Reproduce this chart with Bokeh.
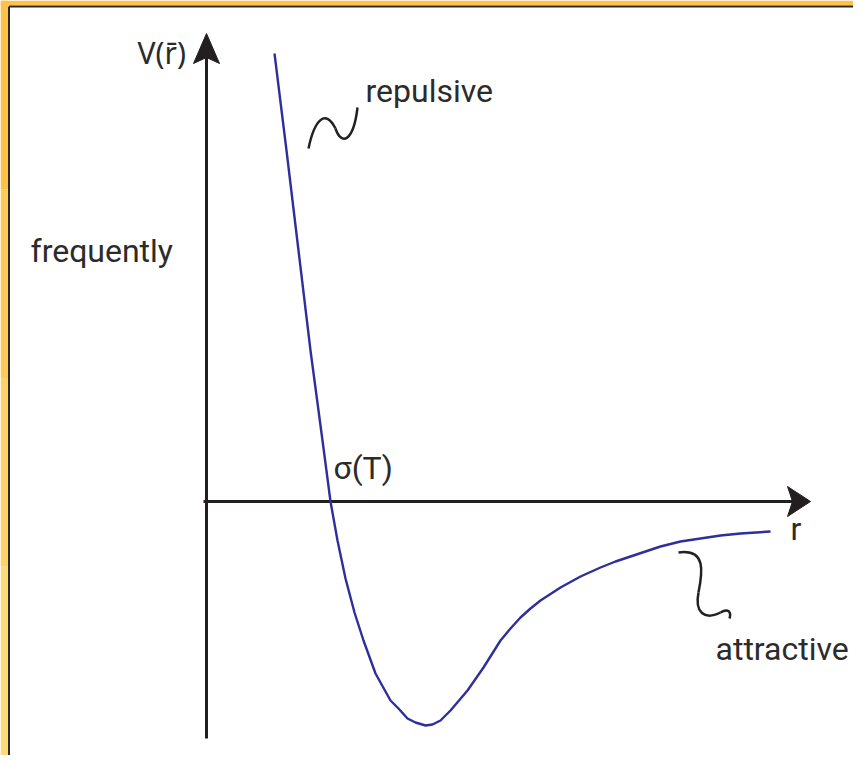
from bokeh.plotting import figure
from bokeh.models import Range1d
from bokeh.core.properties import value
from bokeh.embed import file_html
from bokeh.resources import INLINE

# Potential curve V(r) (axis units: 1 = 100 px)
r_vals = [0.68, 0.80, 0.92, 1.04, 1.16, 1.24, 1.31, 1.39, 1.48, 1.57, 1.69, 1.84,
          1.92, 2.01, 2.09, 2.19, 2.26, 2.34, 2.44, 2.61, 2.77, 2.94, 3.04, 3.14, 3.24,
          3.34, 3.54, 3.74, 3.94, 4.09, 4.24, 4.54, 4.74, 4.94, 5.14, 5.34, 5.64]
V_vals = [4.48, 3.51, 2.51, 1.51, 0.61, 0.00, -0.39, -0.77, -1.11, -1.39, -1.72, -1.99,
          -2.07, -2.17, -2.21, -2.24, -2.23, -2.19, -2.09, -1.89, -1.66, -1.39, -1.27, -1.16, -1.07,
          -0.99, -0.86, -0.75, -0.66, -0.60, -0.55, -0.45, -0.40, -0.37, -0.34, -0.32, -0.30]

labels = ["repulsive", "frequently", "\u03c3(T)", "r", "attractive"]
label_r = [1.59, -1.76, 1.27, 5.84, 5.09]
label_V = [4.11, 2.51, 0.34, -0.27, -1.47]

axis_label = ["V(r\u0304)"]
axis_label_r = [-0.69]
axis_label_V = [4.49]

W, H = 853, 755
X0, X1 = -2.06, 6.47
Y0, Y1 = -2.54, 5.01

p = figure(width=W, height=H, output_backend="svg", toolbar_location=None,
           x_range=Range1d(X0, X1), y_range=Range1d(Y0, Y1),
           x_axis_type=None, y_axis_type=None, min_border=0,
           background_fill_color="white", border_fill_color="white")
p.outline_line_color = None
p.xgrid.visible = False
p.ygrid.visible = False

# orange frame (top and left), with dark inner edge
orange_top = "#FFC247"
left_cols = ["#FFC247", "#FFCB58", "#FFD368", "#FFDA78"]
p.quad(left=[X0], right=[X1], top=[Y1], bottom=[Y1 - 0.05], fill_color=orange_top, line_color=None)
n = len(left_cols)
step = (Y1 - Y0) / n
p.quad(left=[X0] * n, right=[X0 + 0.075] * n,
       top=[Y1 - i * step for i in range(n)], bottom=[Y1 - (i + 1) * step for i in range(n)],
       fill_color=left_cols, line_color=None)
p.segment(x0=[X0 + 0.085, X0 + 0.085], y0=[Y1 - 0.06, Y1 - 0.06], x1=[X1, X0 + 0.085], y1=[Y1 - 0.06, Y0],
          line_color="#2a2a2a", line_width=2)

# axes
ax_col = "#231f20"
p.segment(x0=[0, -0.03], y0=[-2.37, 0], x1=[0, 5.9], y1=[4.45, 0], line_color=ax_col, line_width=3)
p.patch(x=[0, -0.13, 0, 0.13], y=[4.68, 4.38, 4.44, 4.38], fill_color=ax_col, line_color=ax_col)
p.patch(x=[6.04, 5.81, 5.86, 5.81], y=[0, 0.15, 0, -0.15], fill_color=ax_col, line_color=ax_col)

# curve
p.line(r_vals, V_vals, line_color="#2e2e9c", line_width=2.4, line_join="round")

# squiggles
p.bezier(x0=[1.02, 1.29], y0=[3.53, 3.73], x1=[1.29, 1.51], y1=[3.73, 3.94],
         cx0=[1.08, 1.35], cy0=[3.82, 3.55], cx1=[1.19, 1.47], cy1=[3.93, 3.60],
         line_color="#222222", line_width=2.5)
p.bezier(x0=[4.72, 4.92, 5.14], y0=[-0.51, -0.91, -1.11], x1=[4.92, 5.14, 5.23], y1=[-0.91, -1.11, -1.17],
         cx0=[5.00, 4.88, 5.22], cy0=[-0.47, -1.11, -1.06], cx1=[4.96, 4.98, 5.25], cy1=[-0.71, -1.19, -1.11],
         line_color="#222222", line_width=2.5)

# labels
p.text(x=label_r, y=label_V, text=labels, text_font=value("Roboto"),
       text_font_size="32px", text_color="#2b2b2b", text_align="left", text_baseline="alphabetic")
p.text(x=axis_label_r, y=axis_label_V, text=axis_label, text_font=value("Noto Sans"),
       text_font_size="30px", text_color="#2b2b2b", text_align="left", text_baseline="alphabetic")

open("out.html", "w").write(file_html(p, INLINE))
